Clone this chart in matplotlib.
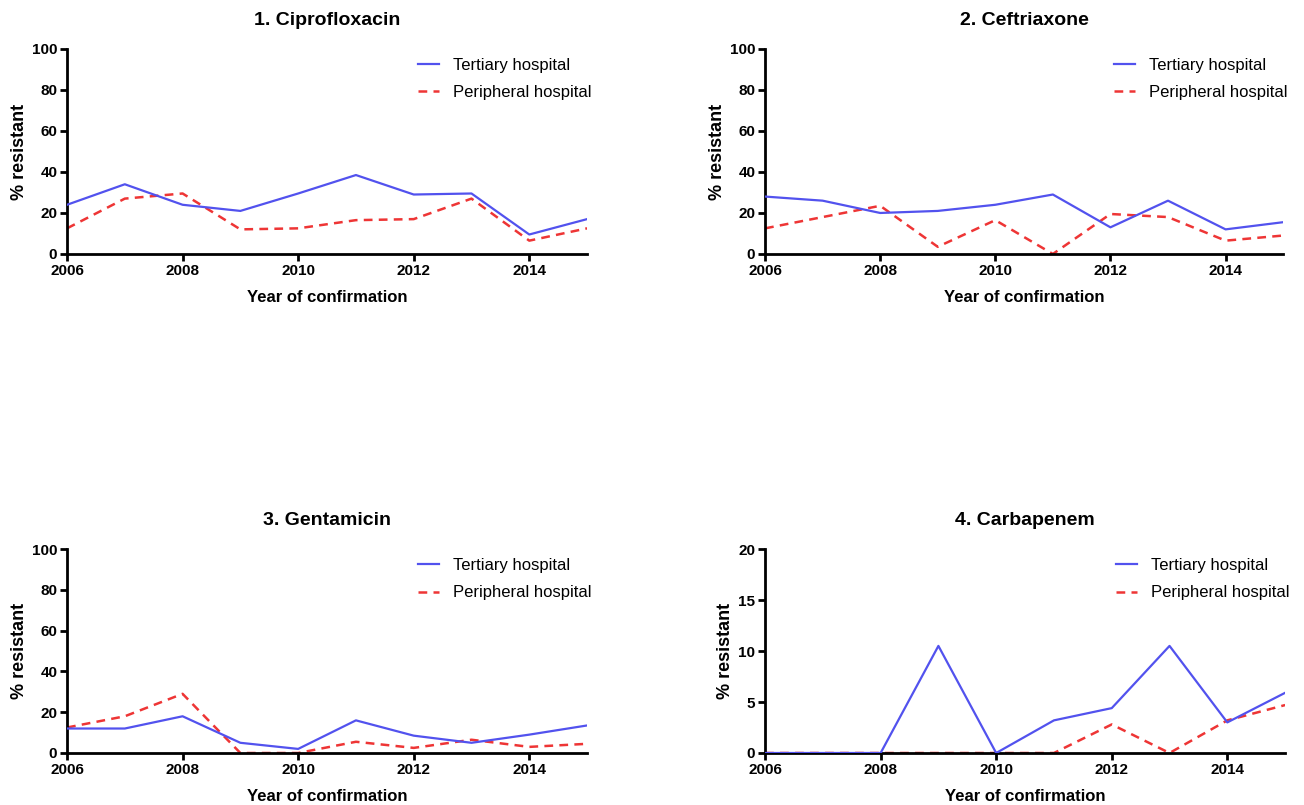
import matplotlib.pyplot as plt

plt.rcParams['font.family'] = ['Liberation Sans', 'DejaVu Sans']

years = [2006, 2007, 2008, 2009, 2010, 2011, 2012, 2013, 2014, 2015]
titles = ['1. Ciprofloxacin', '2. Ceftriaxone', '3. Gentamicin', '4. Carbapenem']

# % resistant
cipro_tertiary = [24, 34, 24, 21, 29.5, 38.5, 29, 29.5, 9.5, 17]
cipro_peripheral = [12.5, 27, 29.5, 12, 12.5, 16.5, 17, 27, 6.5, 12.5]
ceftr_tertiary = [28, 26, 20, 21, 24, 29, 13, 26, 12, 15.5]
ceftr_peripheral = [12.5, 18, 23.5, 3.5, 16.5, 0, 19.5, 18, 6.5, 9]
genta_tertiary = [12, 12, 18, 5, 2, 16, 8.5, 5, 9, 13.5]
genta_peripheral = [12.5, 18, 29, 0, 0, 5.5, 2.5, 6.5, 3, 4.5]
carba_tertiary = [0, 0, 0, 10.5, 0, 3.2, 4.4, 10.5, 3, 5.9]
carba_peripheral = [0, 0, 0, 0, 0, 0, 2.8, 0, 3.2, 4.7]

tertiary = [cipro_tertiary, ceftr_tertiary, genta_tertiary, carba_tertiary]
peripheral = [cipro_peripheral, ceftr_peripheral, genta_peripheral, carba_peripheral]
ymax = [100, 100, 100, 20]
ystep = [20, 20, 20, 5]

fig = plt.figure(figsize=(13.04, 8.05), dpi=100)
# left, bottom, width, height in figure fractions
boxes = [
    [0.0514, 0.6845, 0.3988, 0.2547],
    [0.5867, 0.6845, 0.3973, 0.2547],
    [0.0514, 0.0646, 0.3988, 0.2534],
    [0.5867, 0.0646, 0.3988, 0.2534],
]

for i in range(4):
    ax = fig.add_axes(boxes[i])
    ax.plot(years, tertiary[i], color='#5252ee', lw=1.6, label='Tertiary hospital', zorder=3)
    ax.plot(years, peripheral[i], color='#ee3535', lw=1.8, ls=(0, (3.5, 2.5)),
            label='Peripheral hospital', zorder=2)
    ax.set_xlim(2006, 2015)
    ax.set_ylim(0, ymax[i])
    ax.set_xticks([2006, 2008, 2010, 2012, 2014])
    ax.set_yticks(range(0, ymax[i] + 1, ystep[i]))
    for s in ['top', 'right']:
        ax.spines[s].set_visible(False)
    for s in ['left', 'bottom']:
        ax.spines[s].set_linewidth(2)
    ax.tick_params(direction='out', length=5, width=2, labelsize=11, pad=2)
    for lab in ax.get_xticklabels() + ax.get_yticklabels():
        lab.set_fontweight('bold')
    ax.set_title(titles[i], fontsize=14, fontweight='bold', pad=17)
    ax.set_xlabel('Year of confirmation', fontsize=12, fontweight='bold', labelpad=9)
    ax.set_ylabel('% resistant', fontsize=13, fontweight='bold', labelpad=3)
    ax.legend(loc='upper right', frameon=False, fontsize=12, handlelength=1.3,
              labelspacing=0.75, bbox_to_anchor=(1.037, 1.03))

fig.savefig('out.png', dpi=100)
